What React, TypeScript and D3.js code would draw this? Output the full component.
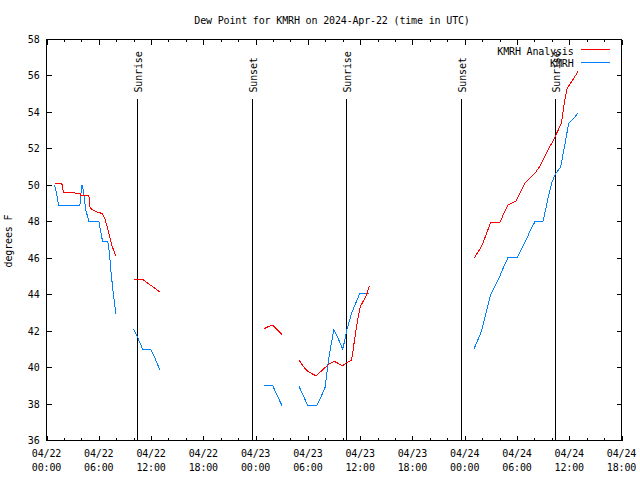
import React from "react";
import * as d3 from "d3";

// ---- data (hours since 2024-04-22 00:00 UTC, degrees F); null = gap ----
const analysisSeries: [number, number | null][] = [
  [0.92, 50.1], [1.76, 50.1], [1.95, 49.61], [2.6, 49.61], [3.86, 49.55], [3.94, 49.46],
  [4.86, 49.46], [5.01, 48.76], [5.36, 48.64], [5.74, 48.54], [6.43, 48.45], [6.7, 48.18],
  [7.12, 47.45], [7.5, 46.71], [7.96, 46.11],
  [9, null],
  [9.99, 44.83], [11.06, 44.83], [11.55, 44.65], [12.13, 44.46], [13.0, 44.15],
  [20, null],
  [25.02, 42.14], [25.52, 42.26], [25.98, 42.32], [27.05, 41.81],
  [28, null],
  [28.96, 40.43], [29.46, 40.07], [30.0, 39.79], [30.49, 39.66], [30.95, 39.55], [31.45, 39.77],
  [31.95, 39.99], [32.49, 40.21], [33.02, 40.34], [33.48, 40.23], [33.97, 40.1], [34.47, 40.27],
  [34.97, 40.4], [35.12, 40.67], [35.32, 41.4], [35.55, 42.14], [35.82, 42.87], [36.0, 43.32],
  [36.3, 43.6], [36.73, 43.97], [37.04, 44.46],
  [45, null],
  [49.05, 45.98], [49.93, 46.64], [50.47, 47.3], [50.96, 47.95], [52.03, 47.95], [52.49, 48.45],
  [52.99, 48.93], [53.9, 49.14], [54.37, 49.6], [54.95, 50.14], [56.05, 50.65], [56.59, 51.02],
  [57.08, 51.48], [57.66, 52.02], [58.23, 52.52], [58.73, 53.03], [59.11, 53.4], [59.26, 53.94],
  [59.49, 54.68], [59.76, 55.32], [59.95, 55.45], [60.53, 55.87], [60.99, 56.24],
];

const stationSeries: [number, number | null][] = [
  [0.92, 50.01], [1.15, 49.55], [1.38, 48.91], [3.83, 48.91], [3.94, 49.46], [4.06, 50.01],
  [4.13, 50.01], [4.32, 49.37], [4.51, 48.64], [4.86, 48.03], [6.0, 48.03], [6.2, 47.54],
  [6.43, 46.93], [7.04, 46.93], [7.23, 46.26], [7.42, 45.16], [7.65, 44.15], [7.96, 42.96],
  [9, null],
  [9.99, 42.1], [10.52, 41.59], [11.06, 40.98], [11.98, 40.98], [12.4, 40.58], [13.0, 39.88],
  [20, null],
  [25.02, 39.0], [25.98, 39.0], [26.48, 38.47], [27.05, 37.89],
  [28, null],
  [28.96, 39.0], [30.0, 37.9], [30.99, 37.9], [31.49, 38.38], [31.99, 38.93], [32.22, 39.85],
  [32.48, 40.76], [32.98, 42.08], [33.48, 41.59], [34.01, 41.0], [34.51, 42.14], [35.01, 42.96],
  [35.47, 43.51], [35.96, 44.06], [37.04, 44.06],
  [45, null],
  [49.05, 41.0], [49.93, 42.0], [50.47, 43.05], [50.96, 43.97], [51.46, 44.46], [51.92, 44.88],
  [52.39, 45.43], [52.96, 46.02], [54.03, 46.02], [54.41, 46.4], [54.98, 46.93], [55.55, 47.54],
  [56.05, 47.99], [56.97, 47.99], [57.28, 48.64], [57.59, 49.37], [57.97, 50.1], [58.43, 50.65],
  [59.0, 50.98], [59.38, 51.93], [59.76, 52.94], [59.95, 53.4], [60.53, 53.67], [61.03, 53.98],
];

const eventLabels = ["Sunrise", "Sunset", "Sunrise", "Sunset", "Sunrise"];
const eventHours = [10.48, 23.68, 34.47, 47.67, 58.46];

const seriesNames = ["KMRH Analysis", "KMRH"];
const seriesColors = ["#ff0000", "#0080ff"];

const yTicks = [36, 38, 40, 42, 44, 46, 48, 50, 52, 54, 56, 58];
const titleText = "Dew Point for KMRH on 2024-Apr-22 (time in UTC)";
const yLabel = "degrees F";

const START = Date.UTC(2024, 3, 22, 0);
const END = Date.UTC(2024, 3, 24, 18);
const HOUR = 3600 * 1000;

const FONT = "'DejaVu Sans Mono', monospace";

export default function App() {
  const W = 640, H = 480;
  const left = 46.5, right = 621.5, top = 39.5, bottom = 440.5;

  const x = d3.scaleUtc().domain([new Date(START), new Date(END)]).range([left, right]);
  const y = d3.scaleLinear().domain([36, 58]).range([bottom, top]);

  const line = d3
    .line<[number, number | null]>()
    .defined((d) => d[1] !== null)
    .x((d) => x(new Date(START + d[0] * HOUR)))
    .y((d) => y(d[1] as number));

  const majorTicks = d3.utcHour.every(6)!.range(new Date(START), new Date(END + 1));
  const minorTicks = d3.utcHour.every(2)!.range(new Date(START), new Date(END + 1));
  const fmtDate = d3.utcFormat("%m/%d");
  const fmtTime = d3.utcFormat("%H:%M");

  const textStyle: React.CSSProperties = { fontFamily: FONT, fontSize: 10, letterSpacing: -0.16 };

  return (
    <svg width={W} height={H} style={{ position: "absolute", left: 0, top: 0, background: "#fff" }}>
      <rect x={0} y={0} width={W} height={H} fill="#fff" />
      <g shapeRendering="crispEdges" stroke="#000" strokeWidth={1}>
        {minorTicks.map((t, i) => (
          <g key={"mi" + i}>
            <line x1={Math.round(x(t)) + 0.5} x2={Math.round(x(t)) + 0.5} y1={bottom} y2={bottom - 2.5} />
            <line x1={Math.round(x(t)) + 0.5} x2={Math.round(x(t)) + 0.5} y1={top} y2={top + 2.5} />
          </g>
        ))}
        {majorTicks.map((t, i) => (
          <g key={"ma" + i}>
            <line x1={Math.round(x(t)) + 0.5} x2={Math.round(x(t)) + 0.5} y1={bottom} y2={bottom - 5} />
            <line x1={Math.round(x(t)) + 0.5} x2={Math.round(x(t)) + 0.5} y1={top} y2={top + 5} />
          </g>
        ))}
        {yTicks.map((v) => (
          <g key={"y" + v}>
            <line x1={left} x2={left + 5} y1={Math.round(y(v) - 0.5) + 0.5} y2={Math.round(y(v) - 0.5) + 0.5} />
            <line x1={right} x2={right - 5} y1={Math.round(y(v) - 0.5) + 0.5} y2={Math.round(y(v) - 0.5) + 0.5} />
          </g>
        ))}
        {eventHours.map((h, i) => {
          const xx = Math.round(x(new Date(START + h * HOUR)) - 0.5) + 0.5;
          return <line key={"ev" + i} x1={xx} x2={xx} y1={99} y2={bottom} />;
        })}
      </g>

      <g fill="none" strokeWidth={1} shapeRendering="crispEdges">
        <path d={line(stationSeries) || ""} stroke={seriesColors[1]} />
        <path d={line(analysisSeries) || ""} stroke={seriesColors[0]} />
      </g>

      <rect x={left} y={top} width={right - left} height={bottom - top} fill="none" stroke="#000" strokeWidth={1} shapeRendering="crispEdges" />

      <g style={textStyle} fill="#000">
        <text x={332} y={24} textAnchor="middle">{titleText}</text>
        {yTicks.map((v) => (
          <text key={"yl" + v} x={39.5} y={y(v) + 3.5} textAnchor="end">{v}</text>
        ))}
        {majorTicks.map((t, i) => (
          <g key={"xl" + i}>
            <text x={x(t)} y={457} textAnchor="middle">{fmtDate(t)}</text>
            <text x={x(t)} y={470.5} textAnchor="middle">{fmtTime(t)}</text>
          </g>
        ))}
        <text transform={`translate(11.5,241) rotate(-90)`} textAnchor="middle">{yLabel}</text>
        {eventHours.map((h, i) => {
          const xx = x(new Date(START + h * HOUR));
          return (
            <text key={"el" + i} transform={`translate(${xx + 4.5},92.5) rotate(-90)`} textAnchor="start">
              {eventLabels[i]}
            </text>
          );
        })}
        {seriesNames.map((n, i) => (
          <g key={"lg" + i}>
            <text x={573.5} y={54.5 + i * 12.7} textAnchor="end">{n}</text>
            <line
              x1={581}
              x2={610}
              y1={49.5 + i * 13}
              y2={49.5 + i * 13}
              stroke={seriesColors[i]}
              strokeWidth={1}
              shapeRendering="crispEdges"
            />
          </g>
        ))}
      </g>
    </svg>
  );
}
